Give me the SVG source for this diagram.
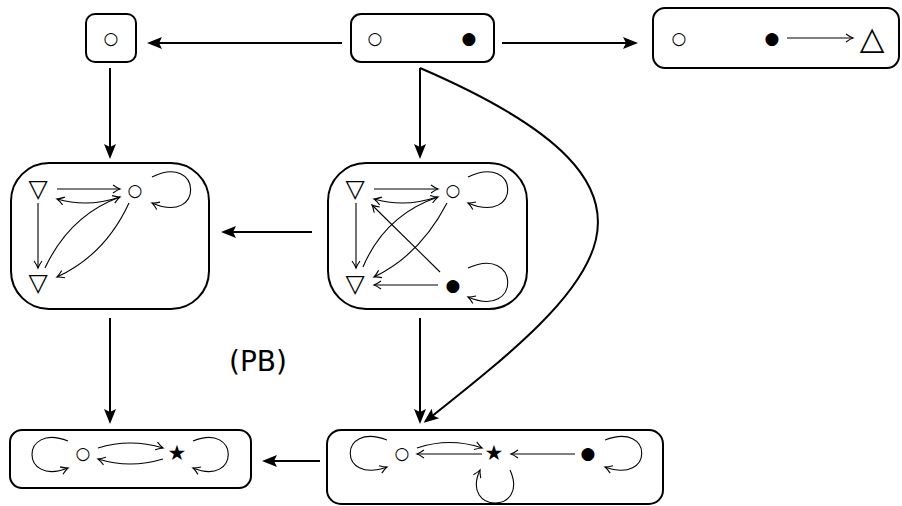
<svg xmlns="http://www.w3.org/2000/svg" width="902" height="506" viewBox="0 0 902 506">
<style>
.box{fill:none;stroke:#000;stroke-width:2}
.main{fill:none;stroke:#000;stroke-width:2;marker-end:url(#big)}
.thin{fill:none;stroke:#000;stroke-width:1.1;marker-end:url(#small)}
.s{font-family:"DejaVu Sans",sans-serif;text-anchor:middle;dominant-baseline:central;fill:#000}
.c{font-size:17px}
.t{font-size:25px}
.up{font-size:32px}
.st{font-size:21px}
.lbl{font-family:"DejaVu Sans",sans-serif;font-size:28px;fill:#000}
</style>
<defs>
<marker id="big" markerUnits="userSpaceOnUse" orient="auto" markerWidth="18" markerHeight="14" viewBox="-13 -7 17 14" refX="0" refY="0" overflow="visible">
<path d="M3,0 L-12,-6 L-9,0 L-12,6 Z" fill="#000"/>
</marker>
<marker id="small" markerUnits="userSpaceOnUse" orient="auto" markerWidth="10" markerHeight="10" viewBox="-8 -5 10 10" refX="0" refY="0" overflow="visible">
<path d="M-7,-4 Q-2.5,-0.8 0,0 Q-2.5,0.8 -7,4" fill="none" stroke="#000" stroke-width="1.1"/>
</marker>
</defs>

<g id="n1">
<rect class="box" x="86" y="14" width="50" height="48" rx="9"/>
<text class="s c" x="111" y="38">○</text>
</g>
<g id="n2">
<rect class="box" x="351" y="14" width="143" height="48" rx="10"/>
<text class="s c" x="375" y="38">○</text>
<text class="s c" x="469" y="38">●</text>
</g>
<g id="n3">
<rect class="box" x="653" y="8" width="246" height="60" rx="12"/>
<text class="s c" x="679" y="38">○</text>
<text class="s c" x="772" y="38">●</text>
<text class="s up" x="872" y="38">△</text>
<path class="thin" d="M787,38 L853,38"/>
</g>
<g id="n4">
<rect class="box" x="11" y="163" width="198" height="146" rx="38"/>
<text class="s t" x="38" y="188">▽</text>
<text class="s t" x="38" y="282">▽</text>
<text class="s c" x="135" y="190">○</text>
<path class="thin" d="M57,189 L120,189"/>
<path class="thin" d="M120,197 Q88,208 57,199"/>
<path class="thin" d="M152,177 C202,152 205,226 152,203"/>
<path class="thin" d="M38,203 L38,268"/>
<path class="thin" d="M45,268 Q70,215 120,197"/>
<path class="thin" d="M129,203 Q105,255 57,277"/>
</g>
<g id="n5">
<rect class="box" x="328" y="163" width="199" height="146" rx="38"/>
<text class="s t" x="355" y="188">▽</text>
<text class="s t" x="355" y="283">▽</text>
<text class="s c" x="453" y="190">○</text>
<text class="s c" x="453" y="285">●</text>
<path class="thin" d="M374,189 L438,189"/>
<path class="thin" d="M437,197 Q405,208 374,199"/>
<path class="thin" d="M468,177 C520,152 522,226 468,203"/>
<path class="thin" d="M356,203 L356,268"/>
<path class="thin" d="M363,267 Q385,215 438,197"/>
<path class="thin" d="M447,203 Q420,255 374,277"/>
<path class="thin" d="M440,272 L372,205"/>
<path class="thin" d="M438,285 L374,285"/>
<path class="thin" d="M468,268 C520,244 522,320 468,297"/>
</g>
<g id="n6">
<rect class="box" x="10" y="430" width="241" height="58" rx="12"/>
<text class="s c" x="83" y="453">○</text>
<text class="s st" x="177" y="453">★</text>
<path class="thin" d="M68,441 C20,422 20,487 68,468"/>
<path class="thin" d="M98,448 Q130,438 163,448"/>
<path class="thin" d="M163,459 Q130,469 98,459"/>
<path class="thin" d="M193,441 C240,422 240,487 193,468"/>
</g>
<g id="n7">
<rect class="box" x="327" y="430" width="336" height="74" rx="14"/>
<text class="s c" x="402" y="453">○</text>
<text class="s st" x="494" y="453">★</text>
<text class="s c" x="588" y="453">●</text>
<path class="thin" d="M387,440 C338,421 338,485 387,467"/>
<path class="thin" d="M417,448 Q450,437 482,448"/>
<path class="thin" d="M482,454 L417,454"/>
<path class="thin" d="M575,454 L511,454"/>
<path class="thin" d="M510,470 C530,514 460,514 480,470"/>
<path class="thin" d="M605,440 C654,421 654,485 605,467"/>
</g>

<g id="connectors">
<path class="main" d="M342,43 L150,43"/>
<path class="main" d="M502,43 L635,43"/>
<path class="main" d="M110,68 L110,156"/>
<path class="main" d="M420,68 L420,156"/>
<path class="main" d="M312,232 L224,232"/>
<path class="main" d="M110,318 L110,421"/>
<path class="main" d="M420,318 L420,421"/>
<path class="main" d="M320,461 L265,461"/>
<path class="main" d="M420,68 C708,192 599,284 426,421"/>
</g>

<text class="lbl" x="229" y="371">(PB)</text>
</svg>
